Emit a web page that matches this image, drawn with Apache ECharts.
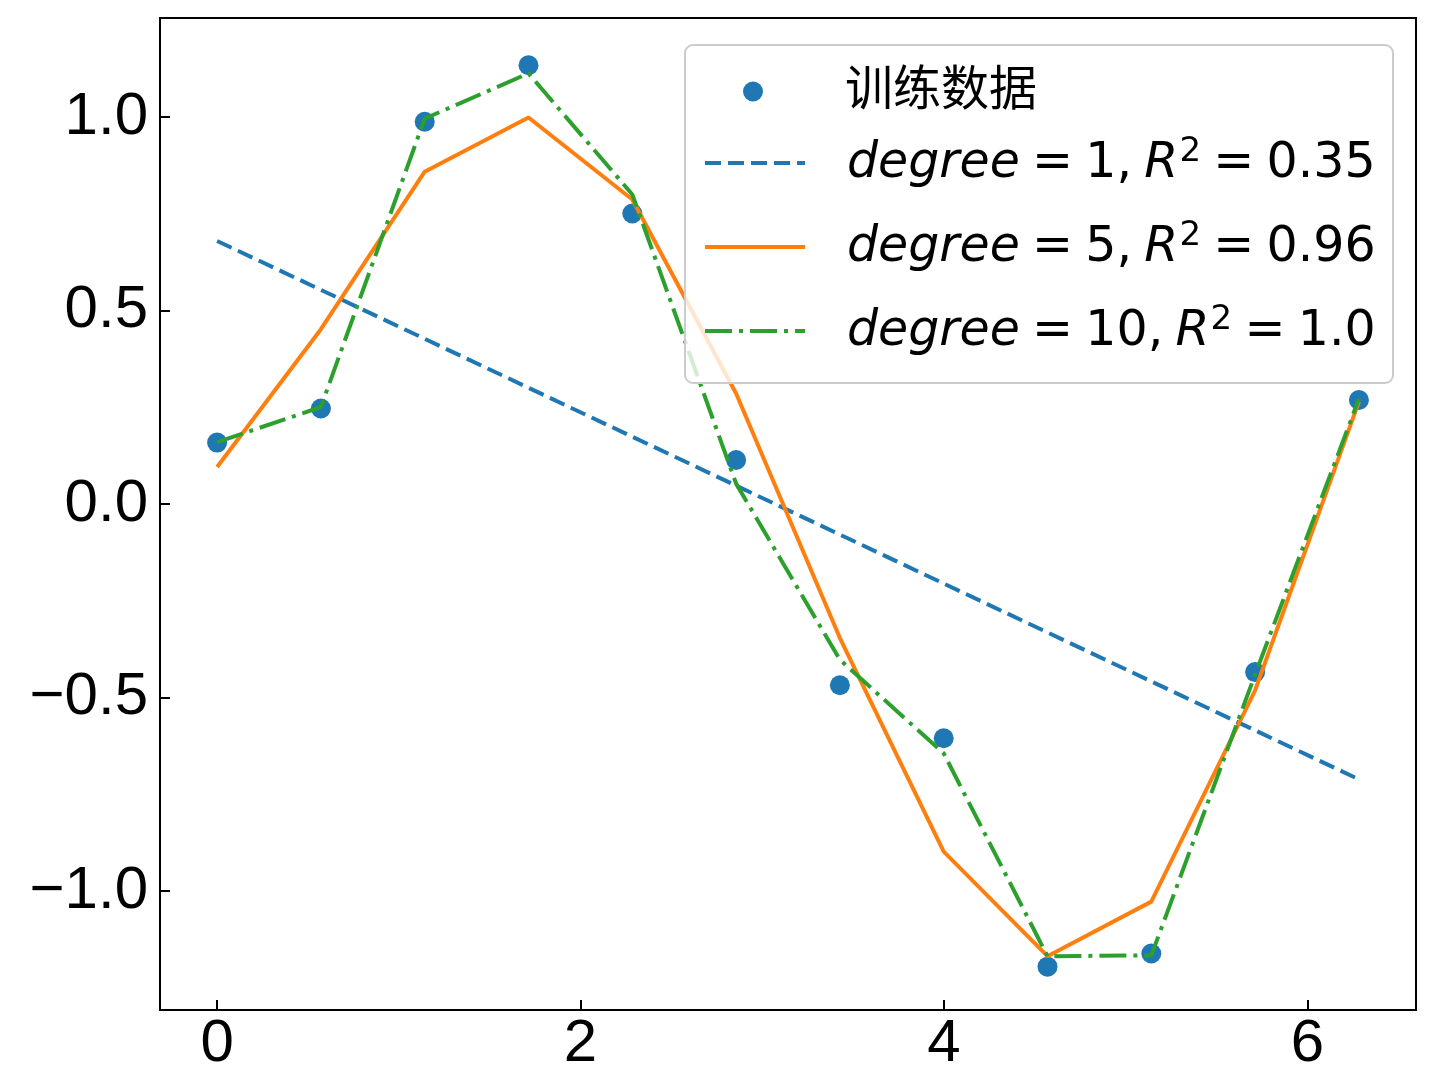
<!DOCTYPE html>
<html>
<head>
<meta charset="utf-8">
<script src="https://cdn.jsdelivr.net/npm/echarts@6/dist/echarts.min.js"></script>
<style>
html,body{margin:0;padding:0;background:#fff;}
#chart{width:1447px;height:1078px;}
</style>
</head>
<body>
<div id="chart"></div>
<script>
// ---- data ----
const xs = [0, 0.5712, 1.1424, 1.7136, 2.2848, 2.8560, 3.4272, 3.9984, 4.5696, 5.1408, 5.7120, 6.2832];
const trainY = [0.159, 0.247, 0.988, 1.134, 0.751, 0.114, -0.468, -0.605, -1.195, -1.161, -0.434, 0.269];
const deg1X = [0, 6.2832];
const deg1Y = [0.680, -0.711];
const deg5Y = [0.096, 0.452, 0.859, 0.999, 0.787, 0.286, -0.346, -0.898, -1.168, -1.027, -0.481, 0.265];
const deg10Y = [0.160, 0.251, 0.996, 1.113, 0.800, 0.053, -0.402, -0.644, -1.168, -1.166, -0.440, 0.272];
const legendNames = ['训练数据', 'degree = 1, R² = 0.35', 'degree = 5, R² = 0.96', 'degree = 10, R² = 1.0'];
const degrees = ['1', '5', '10'];
const r2s = ['0.35', '0.96', '1.0'];
const xTicks = [0, 2, 4, 6];
const yTicks = [-1, -0.5, 0, 0.5, 1];

const pairs = (xa, ya) => xa.map((x, i) => [x, ya[i]]);
const SP = '\u2005';

const chart = echarts.init(document.getElementById('chart'), null, {renderer: 'canvas'});
const tickFont = 'Liberation Sans';
const hiddenDot = {opacity: 0, color: 'rgba(0,0,0,0)', borderWidth: 0};

const legendText = {
  color: '#000',
  rich: {
    sp: {width: 37},
    cjk: {fontFamily: 'Noto Sans CJK SC', fontSize: 48, padding: [0, 0, 10, 0], color: '#000'},
    it: {fontFamily: 'DejaVu Sans', fontStyle: 'italic', fontSize: 49, padding: [4, 0, 2, 0], color: '#000'},
    n: {fontFamily: 'DejaVu Sans', fontSize: 49, padding: [4, 0, 2, 0], color: '#000'},
    sup: {fontFamily: 'DejaVu Sans', fontSize: 34, verticalAlign: 'top', padding: [0, 0, 0, 1], color: '#000'}
  }
};
const legendFormatter = function (name) {
  const i = legendNames.indexOf(name);
  if (i === 0) return '{sp|}{cjk|' + name + '}';
  return '{sp|}{it|degree}{n|' + SP + '=' + SP + degrees[i - 1] + ',' + SP + '}{it|R}{sup|2}{n|' + SP + '=' + SP + r2s[i - 1] + '}';
};
const legendBase = {
  orient: 'vertical', padding: 0,
  itemWidth: 100, itemHeight: 20,
  backgroundColor: 'transparent', borderWidth: 0, z: 5,
  lineStyle: {width: 4},
  formatter: legendFormatter, textStyle: legendText
};

chart.setOption({
  animation: false,
  backgroundColor: '#ffffff',
  grid: {left: 160, right: 31, top: 18, bottom: 68, show: true, borderColor: '#000', borderWidth: 2, backgroundColor: 'transparent'},
  xAxis: {
    type: 'value', min: -0.3142, max: 6.5973,
    axisLine: {show: false, onZero: false},
    splitLine: {show: false},
    axisTick: {show: true, inside: true, length: 10, lineStyle: {color: '#000', width: 2}, customValues: xTicks},
    axisLabel: {customValues: xTicks, fontSize: 60, fontFamily: tickFont, color: '#000', margin: 4,
      formatter: v => String(v)}
  },
  yAxis: {
    type: 'value', min: -1.307, max: 1.256,
    axisLine: {show: false, onZero: false},
    splitLine: {show: false},
    axisTick: {show: true, inside: true, length: 10, lineStyle: {color: '#000', width: 2}, customValues: yTicks},
    axisLabel: {customValues: yTicks, fontSize: 60, fontFamily: tickFont, color: '#000', margin: 12,
      formatter: v => (v < 0 ? '\u2212' : '') + Math.abs(v).toFixed(1)}
  },
  graphic: [{
    type: 'rect', left: 684, top: 44, z: 4, silent: true,
    shape: {width: 708, height: 338, r: 8},
    style: {fill: 'rgba(255,255,255,0.8)', stroke: '#cccccc', lineWidth: 2}
  }],
  legend: [
    Object.assign({}, legendBase, {left: 743, top: 62.5, data: [{name: legendNames[0]}]}),
    Object.assign({}, legendBase, {left: 703, top: 135.5, itemGap: 31, data: [
      {name: legendNames[1], itemStyle: hiddenDot},
      {name: legendNames[2], itemStyle: hiddenDot},
      {name: legendNames[3], itemStyle: hiddenDot}
    ]})
  ],
  series: [
    {name: legendNames[0], type: 'scatter', data: pairs(xs, trainY), symbol: 'circle', symbolSize: 20,
      itemStyle: {color: '#1f77b4', opacity: 1}, z: 2},
    {name: legendNames[1], type: 'line', data: pairs(deg1X, deg1Y), symbol: 'none', showSymbol: false,
      lineStyle: {color: '#1f77b4', width: 4, type: [16, 7]}, itemStyle: {color: '#1f77b4'}, z: 3},
    {name: legendNames[2], type: 'line', data: pairs(xs, deg5Y), symbol: 'none', showSymbol: false,
      lineStyle: {color: '#ff7f0e', width: 4, type: 'solid'}, itemStyle: {color: '#ff7f0e'}, z: 3},
    {name: legendNames[3], type: 'line', data: pairs(xs, deg10Y), symbol: 'none', showSymbol: false,
      lineStyle: {color: '#2ca02c', width: 4, type: [27, 7, 4, 7]}, itemStyle: {color: '#2ca02c'}, z: 3}
  ]
});
</script>
</body>
</html>
